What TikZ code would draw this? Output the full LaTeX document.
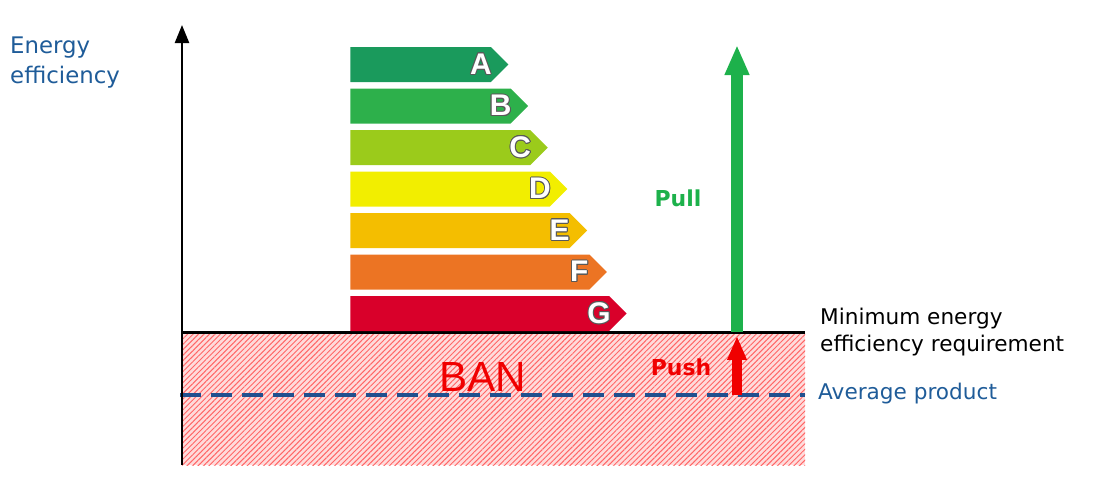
\documentclass[tikz,border=0pt]{standalone}
\usepackage{fontspec}
\setmainfont{DejaVu Sans}
\newfontfamily\arialfont{Liberation Sans}
\usepackage{contour}
\contourlength{0.5pt}
\usetikzlibrary{arrows.meta,shapes.symbols,patterns.meta}

\definecolor{classA}{HTML}{1A9A5C}
\definecolor{classB}{HTML}{2DB04B}
\definecolor{classC}{HTML}{9BCB1B}
\definecolor{classD}{HTML}{F2EE00}
\definecolor{classE}{HTML}{F4BE00}
\definecolor{classF}{HTML}{EC7423}
\definecolor{classG}{HTML}{D9002A}
\definecolor{pullgreen}{HTML}{1DB14B}
\definecolor{pushred}{HTML}{F00000}
\definecolor{axisblue}{HTML}{1F5C99}
\definecolor{dashblue}{HTML}{21508F}

\begin{document}
\begin{tikzpicture}[
        x=0.02cm, y=-0.02cm,
        font=\fontsize{12.3}{15.3}\selectfont,
        classbar/.style={
            signal, signal to=east, inner sep=0pt,
            minimum height=0.7cm, anchor=west
        },
        classletter/.style={
            font=\arialfont\bfseries\fontsize{17}{17}\selectfont,
            text=white, inner sep=0pt
        },
        axisline/.style={line width=1.4pt, -{Triangle[width=0.28cm,length=0.36cm]}},
        bigarrow/.style={-{Triangle[width=#1*1.9,length=#1*2.5]}}
    ]
    \useasboundingbox (0,0) rectangle (1095,478);

    % Banned area below the requirement
    \coordinate (bantop) at (182,332);
    \coordinate (banright) at (805,332);
    \fill[red!14] (182,332) rectangle (805,465);
    \fill[pattern={Lines[angle=45,distance=2.2pt,line width=0.55pt]},
        pattern color=red!60] (182,332) rectangle (805,465);
    \node[font=\arialfont\fontsize{24}{24}\selectfont, text=pushred]
        (ban) at (483,377) {BAN};

    % Average product level
    \coordinate (avgleft) at (180,395);
    \coordinate (avgright) at (805,395);
    \draw[dashblue, line width=2pt, dash pattern=on 0.42cm off 0.2cm]
        (avgleft) -- (avgright);

    % Vertical axis
    \coordinate (origin) at (182,465);
    \coordinate (axistop) at (182,25);
    \draw[axisline] (origin) -- (axistop);
    \node[anchor=north west, align=left, text=axisblue,
        font=\fontsize{13}{17}\selectfont] (ylabel) at (4,31)
        {Energy\\efficiency};

    % Minimum requirement line
    \draw[line width=1.7pt] (bantop) -- (banright);

    % Energy labels A to G
    \foreach \l [count=\i from 0] in {A,B,C,D,E,F,G} {
        \node[classbar, fill=class\l, minimum width={(158+19.7*\i)*0.02cm}]
            (bar\l) at (350,64.5+41.5*\i) {};
        \node[classletter] (let\l) at ([xshift=-0.56cm]bar\l.east)
            {\contour{black!65}{\l}};
    }

    % Pull and push arrows
    \coordinate (pullbase) at (737,332);
    \coordinate (pulltip) at (737,45);
    \draw[bigarrow=0.24cm, pullgreen, line width=0.24cm] (pullbase) -- (pulltip);
    \node[text=pullgreen, font=\bfseries\fontsize{12.5}{12.5}\selectfont]
        (pull) at (678,198) {Pull};

    \coordinate (pushbase) at (737,395);
    \coordinate (pushtip) at (737,336);
    \draw[bigarrow=0.19cm, pushred, line width=0.19cm] (pushbase) -- (pushtip);
    \node[text=pushred, font=\bfseries\fontsize{12.5}{12.5}\selectfont]
        (push) at (681,367) {Push};

    % Right hand labels
    \node[anchor=west, align=left] (minreq) at (814,332)
        {Minimum energy\\efficiency requirement};
    \node[anchor=west, text=axisblue] (avgprod) at (812,394) {Average product};

\end{tikzpicture}
\end{document}
